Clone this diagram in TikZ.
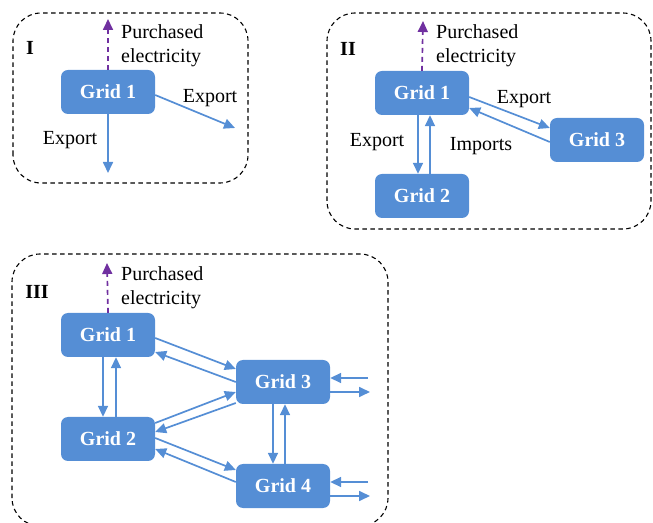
\documentclass[tikz,border=0pt]{standalone}
\usepackage{fontspec}
\setmainfont{Liberation Serif}
\usetikzlibrary{arrows.meta,calc}
\definecolor{gridblue}{RGB}{85,142,213}
\definecolor{buypurple}{RGB}{112,48,160}
\begin{document}
\begin{tikzpicture}[x=1pt,y=1pt,
  gridbox/.style={draw=none,fill=gridblue,rounded corners=7pt,minimum width=94pt,minimum height=44pt,
    text=white,font=\fontsize{20}{24}\selectfont\bfseries,inner sep=0pt},
  panel/.style={draw,line width=1.1pt,rounded corners=28pt,dash pattern=on 4.5pt off 3.5pt},
  flow/.style={draw=gridblue,line width=1.7pt,-{Triangle[length=11pt,width=10pt]}},
  buy/.style={draw=buypurple,line width=1.7pt,dash pattern=on 5pt off 4pt,-{Triangle[length=11pt,width=10pt]}},
  lbl/.style={font=\fontsize{20}{23.5}\selectfont,inner sep=0pt},
  tag/.style={font=\fontsize{20}{24}\selectfont\bfseries,inner sep=0pt}]
\useasboundingbox (0,0) rectangle (653,522);
\clip (0,0) rectangle (653,522);

% ---------- Panel I ----------
\draw[panel] (13,339) rectangle (248,509);
\node[tag] (tI) at (30,474) {I};
\node[gridbox] (a1) at (108,430) {Grid 1};
\coordinate (a1top) at (108,503);
\coordinate (a1down) at (108,349);
\coordinate (a1right) at (235,394);
\draw[buy] (a1.north) -- (a1top);
\node[lbl,anchor=west,align=left] (a1buy) at (121,476.5) {Purchased\\electricity};
\draw[flow] (a1.south) -- (a1down);
\draw[flow] ([yshift=-3pt]a1.east) -- (a1right);
\node[lbl] (a1ex1) at (70,382) {Export};
\node[lbl] (a1ex2) at (210,424) {Export};

% ---------- Panel II ----------
\draw[panel] (327,293) rectangle (651,509);
\node[tag] (tII) at (348,473) {II};
\node[gridbox] (b1) at (422,429) {Grid 1};
\node[gridbox] (b2) at (422,326) {Grid 2};
\node[gridbox] (b3) at (597,382) {Grid 3};
\coordinate (b1top) at (423,501);
\draw[buy] (b1.north) -- (b1top);
\node[lbl,anchor=west,align=left] (b1buy) at (436,476.5) {Purchased\\electricity};
\draw[flow] ([xshift=-4pt]b1.south) -- ([xshift=-4pt]b2.north);
\draw[flow] ([xshift=8pt]b2.north) -- ([xshift=8pt]b1.south);
\draw[flow] ([yshift=-4pt]b1.east) -- ([yshift=12pt]b3.west);
\draw[flow] ([yshift=-2pt]b3.west) -- ([yshift=-15pt]b1.east);
\node[lbl] (b1ex1) at (377,380) {Export};
\node[lbl] (b1im) at (481,376) {Imports};
\node[lbl] (b1ex2) at (524,423) {Export};

% ---------- Panel III ----------
\draw[panel] (12,-4) rectangle (388,268);
\node[tag] (tIII) at (37,230) {III};
\node[gridbox] (c1) at (108,187) {Grid 1};
\node[gridbox] (c2) at (108,83) {Grid 2};
\node[gridbox] (c3) at (283,140) {Grid 3};
\node[gridbox] (c4) at (283,36) {Grid 4};
\coordinate (c1top) at (107,259);
\draw[buy] (c1.north) -- (c1top);
\node[lbl,anchor=west,align=left] (c1buy) at (121,234.5) {Purchased\\electricity};
% Grid 1 <-> Grid 2
\draw[flow] ([xshift=-5pt]c1.south) -- ([xshift=-5pt]c2.north);
\draw[flow] ([xshift=8pt]c2.north) -- ([xshift=8pt]c1.south);
% Grid 1 <-> Grid 3
\draw[flow] ([yshift=-3pt]c1.east) -- ([yshift=13pt]c3.west);
\draw[flow] (c3.west) -- ([yshift=-17pt]c1.east);
% Grid 2 <-> Grid 3
\draw[flow] ([yshift=16pt]c2.east) -- ([yshift=-10pt]c3.west);
\draw[flow] ([yshift=-21pt]c3.west) -- ([yshift=7pt]c2.east);
% Grid 2 <-> Grid 4
\draw[flow] ([yshift=1pt]c2.east) -- ([yshift=16pt]c4.west);
\draw[flow] ([yshift=4pt]c4.west) -- ([yshift=-10pt]c2.east);
% Grid 3 <-> Grid 4
\draw[flow] ([xshift=-10pt]c3.south) -- ([xshift=-10pt]c4.north);
\draw[flow] ([xshift=2pt]c4.north) -- ([xshift=2pt]c3.south);
% outside exchanges
\coordinate (c3in) at (368,144);
\coordinate (c3out) at (370,130);
\coordinate (c4in) at (368,40);
\coordinate (c4out) at (370,26);
\draw[flow] (c3in) -- ([yshift=4pt]c3.east);
\draw[flow] ([yshift=-10pt]c3.east) -- (c3out);
\draw[flow] (c4in) -- ([yshift=4pt]c4.east);
\draw[flow] ([yshift=-10pt]c4.east) -- (c4out);
\end{tikzpicture}
\end{document}
